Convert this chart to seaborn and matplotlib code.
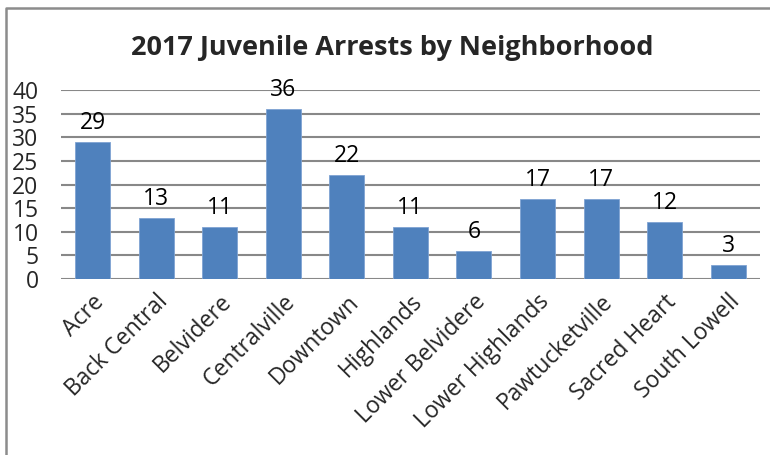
import matplotlib
matplotlib.use('Agg')
import matplotlib.pyplot as plt
from matplotlib.lines import Line2D
import seaborn as sns
import pandas as pd

# data
neighborhoods = ['Acre', 'Back Central', 'Belvidere', 'Centralville', 'Downtown',
                 'Highlands', 'Lower Belvidere', 'Lower Highlands', 'Pawtucketville',
                 'Sacred Heart', 'South Lowell']
arrests = [29, 13, 11, 36, 22, 11, 6, 17, 17, 12, 3]
y_ticks = [0, 5, 10, 15, 20, 25, 30, 35, 40]

df = pd.DataFrame({'Neighborhood': neighborhoods, 'Arrests': arrests})

sns.set_theme(style="white")
plt.rcParams['font.family'] = ['Open Sans', 'DejaVu Sans']

fig = plt.figure(figsize=(7.7, 4.55), dpi=100)
ax = fig.add_axes([0.079, 0.387, 0.908, 0.415])

sns.barplot(data=df, x='Neighborhood', y='Arrests', color='#4F81BD', saturation=1,
            width=0.55, edgecolor='#7FA3D3', linewidth=0.6, ax=ax, zorder=3)

ax.set_ylim(0, 40)
ax.set_xlim(-0.5, len(neighborhoods) - 0.5)
ax.set_yticks(y_ticks)
ax.set_yticklabels([str(t) for t in y_ticks], fontsize=16.5)
ax.tick_params(axis='y', length=0, pad=16)
ax.tick_params(axis='x', length=0, pad=8)
ax.set_xticks(range(len(neighborhoods)))
ax.set_xticklabels(neighborhoods, rotation=45, ha='right', rotation_mode='anchor', fontsize=16.5)
ax.set_xlabel('')
ax.set_ylabel('')

for t in y_ticks:
    ax.axhline(t, color='#888888', linewidth=1.5, zorder=1)

for s in ax.spines.values():
    s.set_visible(False)

for i, v in enumerate(arrests):
    ax.annotate(str(v), (i, v), xytext=(0, 5), textcoords='offset points',
                ha='center', va='bottom', fontsize=16.5, color='black')

fig.text(0.51, 0.895, '2017 Juvenile Arrests by Neighborhood', ha='center', va='center',
         fontsize=19.5, fontweight='bold')

# chart frame, cut off at the right and bottom edges
fig.add_artist(Line2D([6.5 / 770, 6.5 / 770, 1.0], [0.0, 1 - 7.5 / 455, 1 - 7.5 / 455],
                      transform=fig.transFigure, color='#8c8c8c', linewidth=1.8))

fig.savefig('out.png', dpi=100)
